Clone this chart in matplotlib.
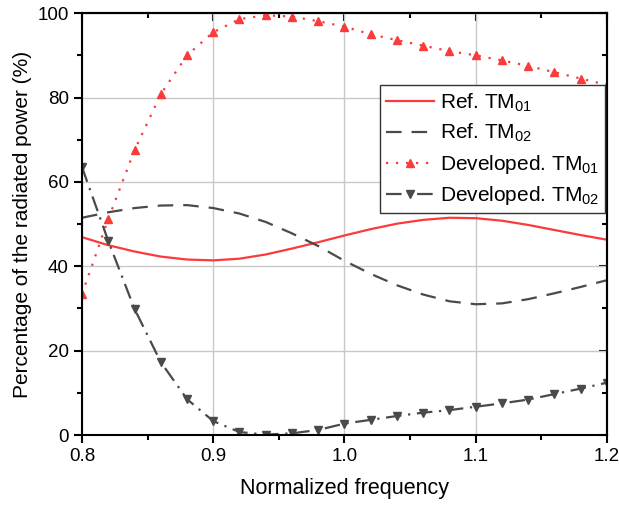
import matplotlib
matplotlib.use("Agg")
import matplotlib.pyplot as plt
import numpy as np
from matplotlib.ticker import MultipleLocator

plt.rcParams['font.family'] = ['Liberation Sans', 'DejaVu Sans']
plt.rcParams['mathtext.fontset'] = 'custom'
plt.rcParams['mathtext.rm'] = 'Liberation Sans'
plt.rcParams['mathtext.it'] = 'Liberation Sans'

freq = [0.80, 0.82, 0.84, 0.86, 0.88, 0.90, 0.92, 0.94, 0.96, 0.98, 1.00,
        1.02, 1.04, 1.06, 1.08, 1.10, 1.12, 1.14, 1.16, 1.18, 1.20]
ref_tm01 = [46.9, 45.0, 43.5, 42.3, 41.6, 41.4, 41.8, 42.8, 44.2, 45.7, 47.3,
            48.8, 50.1, 51.0, 51.5, 51.4, 50.8, 49.8, 48.6, 47.4, 46.3]
ref_tm02 = [51.5, 52.8, 53.8, 54.4, 54.5, 53.8, 52.5, 50.5, 47.8, 44.8, 41.3,
            38.2, 35.5, 33.3, 31.7, 31.0, 31.2, 32.2, 33.6, 35.1, 36.7]
dev_tm01 = [33.4, 51.2, 67.5, 80.8, 90.0, 95.5, 98.6, 99.5, 99.2, 98.1, 96.8,
            95.0, 93.6, 92.3, 91.0, 90.0, 88.8, 87.5, 86.0, 84.5, 83.0]
dev_tm02 = [63.5, 46.0, 29.9, 17.3, 8.5, 3.3, 0.7, 0.1, 0.4, 1.2, 2.7,
            3.6, 4.5, 5.3, 5.9, 6.7, 7.5, 8.4, 9.7, 11.0, 12.4]

labels = ['Ref. TM$_{01}$', 'Ref. TM$_{02}$', 'Developed. TM$_{01}$', 'Developed. TM$_{02}$']

red = '#F93B3B'
gray = '#4A4A4A'

fig = plt.figure(figsize=(6.19, 5.07), dpi=100)
ax = fig.add_axes([0.1325, 0.142, 0.848, 0.832])

ax.plot(freq, ref_tm01, color=red, lw=1.6, ls='-', label=labels[0])
ax.plot(freq, ref_tm02, color=gray, lw=1.6, ls=(0, (7, 4.5)), label=labels[1])
ax.plot(freq, dev_tm01, color=red, lw=1.6, ls=(0, (1, 3.5)), marker='^', ms=5.5,
        label=labels[2])
ax.plot(freq, dev_tm02, color=gray, lw=1.6, ls=(0, (7, 3, 1, 3)), marker='v', ms=5.5,
        label=labels[3])

ax.set_xlim(0.8, 1.2)
ax.set_ylim(0, 100)
ax.xaxis.set_major_locator(MultipleLocator(0.1))
ax.xaxis.set_minor_locator(MultipleLocator(0.05))
ax.yaxis.set_major_locator(MultipleLocator(20))
ax.yaxis.set_minor_locator(MultipleLocator(10))
ax.set_xticks([0.8, 0.9, 1.0, 1.1, 1.2])
ax.set_xticklabels(['0.8', '0.9', '1.0', '1.1', '1.2'])
ax.grid(True, which='major', color='#C8C8C8', lw=1.0)
ax.set_axisbelow(True)

ax.tick_params(which='major', direction='out', length=6, width=1.5, labelsize=13.5)
ax.tick_params(which='minor', direction='out', length=3.5, width=1.5)
for s in ax.spines.values():
    s.set_linewidth(1.5)

# mirrored ticks on top/right pointing inward
top = ax.secondary_xaxis('top')
top.xaxis.set_major_locator(MultipleLocator(0.1))
top.xaxis.set_minor_locator(MultipleLocator(0.05))
top.tick_params(which='major', direction='in', length=6, width=1.5, labeltop=False)
top.tick_params(which='minor', direction='in', length=3.5, width=1.5)
top.spines['top'].set_linewidth(1.5)
right = ax.secondary_yaxis('right')
right.yaxis.set_major_locator(MultipleLocator(20))
right.yaxis.set_minor_locator(MultipleLocator(10))
right.tick_params(which='major', direction='in', length=6, width=1.5, labelright=False)
right.tick_params(which='minor', direction='in', length=3.5, width=1.5)
right.spines['right'].set_linewidth(1.5)

ax.set_xlabel('Normalized frequency', fontsize=15.5, labelpad=9)
ax.set_ylabel('Percentage of the radiated power (%)', fontsize=15, labelpad=4)

leg = ax.legend(loc='upper left', bbox_to_anchor=(0.568, 0.829), borderaxespad=0,
                fontsize=15, frameon=True, fancybox=False, edgecolor='#333333',
                handlelength=2.26, labelspacing=0.4, handletextpad=0.3,
                borderpad=0.3, numpoints=1)
leg.get_frame().set_linewidth(1.0)
leg.get_frame().set_alpha(1)

fig.savefig('out.png', dpi=100)
